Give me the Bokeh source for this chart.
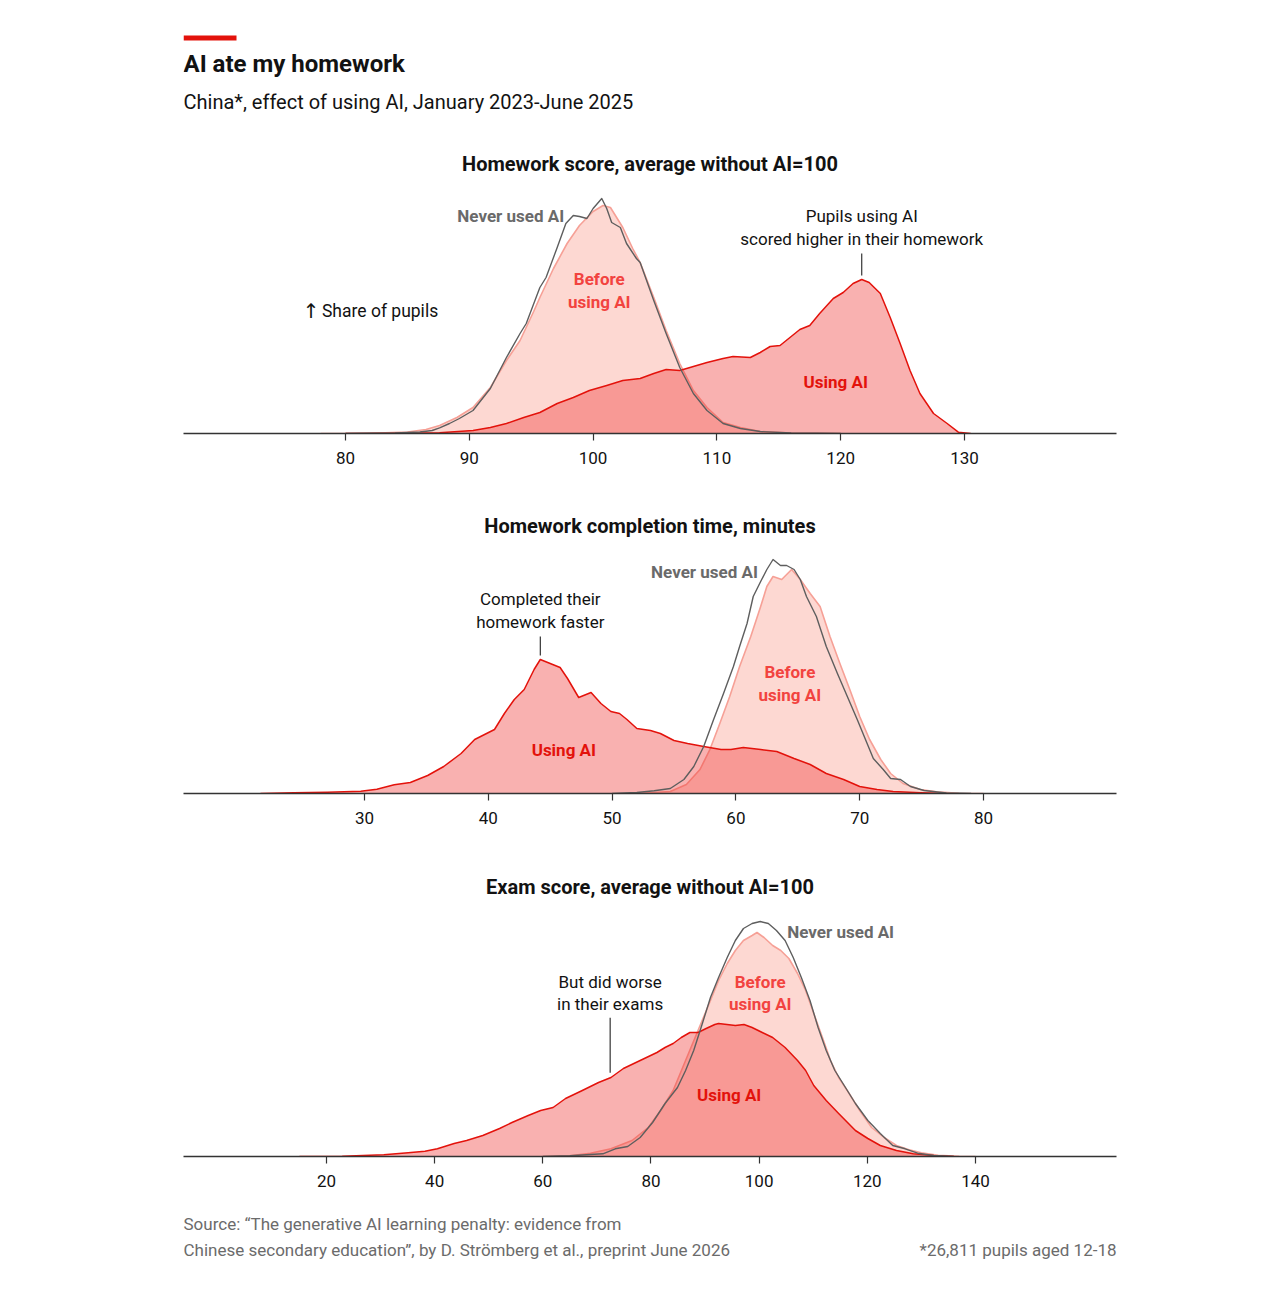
import numpy as np
from bokeh.plotting import figure
from bokeh.models import Range1d, FixedTicker, Label, BoxAnnotation
from bokeh.layouts import column
from bokeh.embed import file_html
from bokeh.resources import INLINE

FONT = "Roboto"

# ---------------- data (share of pupils, arbitrary units) -------------
# Panel 1: homework score, average without AI = 100
hw_never_x = [80, 84, 86, 87, 87.6, 88.4, 89.2, 90.3, 91.7, 93.0, 94.1, 94.6, 95.7, 96.2, 97.1, 97.8, 98.4, 98.9,
              99.5, 100.0, 100.7, 101.1, 101.5, 102.2, 102.7, 103.5, 103.8, 104.9, 105.9, 107.0, 108.1, 109.2,
              110.5, 111.9, 113.5, 116, 120]
hw_never_y = [0, 0.05, 0.15, 0.3, 0.57, 1.0, 1.5, 2.3, 4.5, 7.6, 10.0, 11.0, 14.6, 15.6, 18.6, 21.0, 21.8, 21.7,
              21.5, 22.5, 23.5, 22.5, 21.1, 20.6, 19.0, 17.5, 17.1, 13.3, 10.0, 6.6, 4.0, 2.3,
              1.0, 0.5, 0.2, 0.05, 0]
hw_before_x = [78, 82, 85, 86.5, 87.6, 89.0, 90.3, 91.7, 93.0, 94.1, 95.2, 95.7, 96.8, 97.9, 98.9, 100.0, 100.8,
               101.4, 101.9, 102.4, 103.2, 103.8, 104.9, 105.9, 107.0, 108.1, 109.2, 110.5, 111.9, 113.5, 116, 120]
hw_before_y = [0, 0.03, 0.15, 0.4, 0.8, 1.6, 2.6, 4.6, 7.3, 9.3, 12.2, 13.6, 16.5, 19.0, 20.8, 22.2, 22.8,
               22.6, 21.6, 20.6, 18.5, 17.1, 13.6, 10.3, 7.0, 4.3, 2.6, 1.1, 0.6, 0.2, 0.05, 0]
hw_using_x = [80, 85, 87.6, 90.3, 91.7, 93.0, 94.4, 95.7, 97.1, 98.4, 99.7, 101.1, 102.4, 103.8, 104.9, 105.9,
              107.0, 108.1, 109.2, 110.5, 111.3, 112.7, 113.5, 114.3, 115.1, 115.9, 116.7, 117.5, 118.3, 119.4,
              120.2, 121.0, 121.7, 122.3, 123.2, 124.0, 124.8, 125.6, 126.4, 127.5, 128.6, 129.5, 130.5]
hw_using_y = [0, 0.03, 0.07, 0.3, 0.6, 1.0, 1.6, 2.1, 3.0, 3.6, 4.3, 4.8, 5.3, 5.5, 6.0, 6.4,
              6.3, 6.7, 7.1, 7.5, 7.7, 7.6, 8.1, 8.7, 8.8, 9.6, 10.4, 10.8, 12.0, 13.5,
              14.1, 15.0, 15.4, 15.1, 14.0, 11.6, 9.0, 6.3, 4.0, 2.0, 1.0, 0.13, 0]
hw_ticks = [80, 90, 100, 110, 120, 130]

# Panel 2: homework completion time, minutes
tm_never_x = [50, 52, 53.4, 54.7, 55.8, 56.6, 57.4, 58.2, 59.0, 59.8, 60.3, 60.9, 61.4, 62.0, 62.5, 63.0, 63.6,
              64.1, 64.7, 65.2, 65.7, 66.5, 67.3, 68.2, 69.0, 69.8, 70.6, 71.1, 71.9, 72.5, 73.3, 74.1, 75.2,
              77.0, 79]
tm_never_y = [0, 0.1, 0.27, 0.5, 1.4, 2.7, 4.7, 7.4, 10.0, 12.7, 14.7, 17.0, 19.7, 21.2, 22.4, 23.4, 22.8,
              22.8, 22.4, 21.4, 19.7, 17.7, 14.7, 12.0, 9.7, 7.4, 5.0, 3.5, 2.4, 1.5, 1.4, 0.7, 0.3,
              0.05, 0]
tm_before_x = [52, 54.7, 56.0, 57.1, 57.9, 58.7, 59.5, 60.3, 61.2, 62.0, 62.5, 63.0, 63.7, 64.1, 64.5, 65.2,
               66.0, 66.8, 67.6, 68.4, 69.2, 70.0, 70.8, 71.7, 72.5, 73.5, 74.9, 76.2, 78, 80]
tm_before_y = [0, 0.2, 0.9, 2.4, 4.4, 7.0, 9.7, 12.7, 15.7, 18.7, 20.7, 21.7, 21.4, 21.9, 22.4, 21.4,
               20.0, 18.7, 15.7, 13.0, 10.4, 7.7, 5.4, 3.4, 2.0, 1.0, 0.4, 0.17, 0.03, 0]
tm_using_x = [21.6, 24.3, 27.0, 29.7, 31.0, 32.4, 33.7, 35.1, 36.4, 37.8, 38.9, 39.7, 40.5, 41.3, 42.1, 42.9,
              43.7, 44.2, 45.0, 45.8, 46.4, 47.3, 48.3, 49.1, 49.9, 50.6, 51.2, 52.0, 53.1, 53.9, 55.0, 56.1,
              57.4, 58.8, 59.6, 60.6, 62.0, 63.3, 64.7, 66.0, 67.3, 68.7, 70.0, 71.4, 72.7, 74.9, 77.0]
tm_using_y = [0, 0.07, 0.13, 0.23, 0.43, 0.87, 1.1, 1.8, 2.7, 4.0, 5.4, 5.9, 6.4, 8.0, 9.4, 10.4,
              12.4, 13.4, 13.0, 12.6, 11.5, 9.6, 10.1, 9.0, 8.2, 8.0, 7.4, 6.5, 6.3, 6.0, 5.3, 5.0,
              4.7, 4.4, 4.4, 4.6, 4.4, 4.2, 3.5, 2.9, 2.0, 1.4, 0.7, 0.4, 0.2, 0.07, 0]
tm_ticks = [30, 40, 50, 60, 70, 80]

# Panel 3: exam score, average without AI = 100
ex_never_x = [60, 65.0, 68.8, 71.1, 73.4, 75.7, 78.0, 80.3, 82.6, 84.9, 86.4, 87.9, 89.5, 91.0, 92.5, 94.1, 95.6,
              97.1, 98.7, 100.2, 101.7, 103.2, 104.8, 106.3, 107.8, 109.4, 110.9, 112.4, 114.0, 115.5, 117.8,
              120.1, 122.4, 124.7, 127.0, 129.3, 132.3, 136]
ex_never_y = [0, 0.07, 0.2, 0.27, 0.77, 1.0, 1.9, 3.4, 5.3, 6.9, 8.6, 10.6, 13.3, 15.9, 17.9, 19.9, 21.6,
              22.8, 23.3, 23.5, 23.3, 22.6, 21.6, 19.9, 17.9, 15.6, 12.9, 10.6, 8.6, 7.3, 5.3,
              3.6, 2.3, 1.1, 0.77, 0.33, 0.1, 0]
ex_before_x = [60, 65.0, 68.8, 72.6, 76.5, 79.5, 81.8, 84.1, 86.4, 88.7, 91.0, 92.5, 94.1, 95.6, 97.1, 98.7,
               99.6, 100.9, 102.5, 104.0, 105.5, 107.1, 108.6, 110.1, 111.7, 113.2, 114.7, 116.3, 118.6, 120.8,
               123.1, 125.4, 127.7, 130.0, 133.1, 137, 140]
ex_before_y = [0, 0.07, 0.33, 0.77, 1.6, 2.9, 4.6, 6.6, 9.6, 12.6, 15.6, 17.6, 19.3, 20.6, 21.6, 22.1,
               22.4, 21.9, 21.1, 20.6, 19.8, 18.3, 16.6, 14.3, 11.9, 9.6, 7.9, 6.6, 4.6, 2.9,
               1.9, 1.1, 0.67, 0.37, 0.13, 0.03, 0]
ex_using_x = [15, 22.9, 30.6, 35.1, 38.2, 40.5, 43.6, 45.9, 48.9, 52.0, 54.3, 57.3, 59.6, 61.9, 64.2, 67.3,
              70.3, 72.6, 74.9, 78.0, 81.1, 82.6, 84.1, 85.6, 87.2, 88.7, 90.2, 91.8, 92.5, 95.6, 97.2, 98.7,
              100.2, 102.5, 104.8, 107.1, 108.6, 110.1, 112.4, 114.7, 117.8, 120.1, 122.4, 125.4, 128.5, 132.3, 136]
ex_using_y = [0, 0.03, 0.17, 0.37, 0.53, 0.77, 1.3, 1.6, 2.1, 2.8, 3.4, 4.1, 4.6, 4.9, 5.8, 6.6,
              7.4, 7.9, 8.8, 9.6, 10.4, 10.9, 11.3, 11.9, 12.4, 12.4, 12.8, 13.2, 13.3, 13.1, 13.2, 12.9,
              12.5, 11.9, 10.9, 9.6, 8.6, 7.1, 5.6, 4.3, 2.6, 1.8, 1.1, 0.6, 0.27, 0.1, 0]
ex_ticks = [20, 40, 60, 80, 100, 120, 140]

# ---------------- styling -------------
W = 1258
ML, MR = 183, 142
BEFORE_FILL = "#fdd8d2"
BEFORE_LINE = "#f6a096"
USING_FILL = "#f03c3a"
USING_ALPHA = 0.4
USING_LINE = "#e3120b"
NEVER_LINE = "#5e5e5e"
RED_TXT = "#e3120b"
LIGHTRED_TXT = "#f2433f"
GREY_TXT = "#6a6a6a"
DARK = "#121212"


def base_fig(height, xr, yr, top, bottom):
    p = figure(width=W, height=height, x_range=Range1d(*xr), y_range=Range1d(*yr),
               output_backend="svg", toolbar_location=None, y_axis_location=None,
               min_border_left=ML, min_border_right=MR, min_border_top=top, min_border_bottom=bottom,
               outline_line_color=None, background_fill_color="white", border_fill_color="white")
    p.grid.visible = False
    return p


def style_axis(p, ticks):
    ax = p.xaxis[0]
    ax.ticker = FixedTicker(ticks=ticks)
    ax.axis_line_color = "#333333"
    ax.axis_line_width = 1.3
    ax.major_tick_line_color = "#333333"
    ax.major_tick_line_width = 1.2
    ax.major_tick_out = 7
    ax.major_tick_in = 0
    ax.minor_tick_line_color = None
    ax.major_label_text_font = FONT
    ax.major_label_text_font_size = "17px"
    ax.major_label_text_color = DARK
    ax.major_label_standoff = 11


def draw_series(p, bx, by, ux, uy, nx, ny):
    p.varea(x=bx, y1=0, y2=by, fill_color=BEFORE_FILL, fill_alpha=1.0)
    p.line(bx, by, line_color=BEFORE_LINE, line_width=1.6, line_join="round")
    p.varea(x=ux, y1=0, y2=uy, fill_color=USING_FILL, fill_alpha=USING_ALPHA)
    p.line(ux, uy, line_color=USING_LINE, line_width=1.5, line_join="round")
    p.line(nx, ny, line_color=NEVER_LINE, line_width=1.4, line_join="round")


def txt(p, x, y, text, size="17px", color=DARK, bold=False, align="center", font=FONT):
    p.add_layout(Label(x=x, y=y, text=text, text_font=font, text_font_size=size,
                       text_color=color, text_font_style="bold" if bold else "normal",
                       text_align=align, text_baseline="middle"))


def leader(p, x, y0, y1):
    p.segment(x0=[x], y0=[y0], x1=[x], y1=[y1], line_color="#222222", line_width=1.1)


# ---------------- panel 1 (with header) -------------
PX1 = 12.38
x1s = 80 - 162 / PX1
p1 = base_fig(483, (x1s, x1s + 933 / PX1), (0, 42.5), 8, 50)
style_axis(p1, hw_ticks)
draw_series(p1, hw_before_x, hw_before_y, hw_using_x, hw_using_y, hw_never_x, hw_never_y)

p1.add_layout(BoxAnnotation(left=x1s, right=x1s + 53 / PX1, bottom=39.3, top=39.8,
                            fill_color="#e3120b", fill_alpha=1.0, line_color=None))
txt(p1, x1s, 37.0, "AI ate my homework", size="24px", bold=True, align="left")
txt(p1, x1s, 33.2, "China*, effect of using AI, January 2023-June 2025", size="20px", align="left")
txt(p1, (x1s + x1s + 933 / PX1) / 2, 27.0, "Homework score, average without AI=100", size="20px", bold=True)
txt(p1, 76.55, 12.3, "\u2191", size="20px", align="left", font="DejaVu Sans")
txt(p1, 78.1, 12.3, "Share of pupils", size="17.5px", align="left")
txt(p1, 97.66, 21.8, "Never used AI", color=GREY_TXT, bold=True, align="right")
txt(p1, 100.5, 15.5, "Before", color=LIGHTRED_TXT, bold=True)
txt(p1, 100.5, 13.2, "using AI", color=LIGHTRED_TXT, bold=True)
txt(p1, 119.6, 5.2, "Using AI", color=RED_TXT, bold=True)
i1 = int(np.argmax(hw_using_y))
txt(p1, hw_using_x[i1], 21.8, "Pupils using AI")
txt(p1, hw_using_x[i1], 19.5, "scored higher in their homework")
leader(p1, hw_using_x[i1], hw_using_y[i1] + 0.4, hw_using_y[i1] + 2.6)

# ---------------- panel 2 -------------
PX2 = 12.38
x2s = 30 - 181 / PX2
p2 = base_fig(360, (x2s, x2s + 933 / PX2), (0, 31.0), 0, 50)
style_axis(p2, tm_ticks)
draw_series(p2, tm_before_x, tm_before_y, tm_using_x, tm_using_y, tm_never_x, tm_never_y)
txt(p2, (x2s + x2s + 933 / PX2) / 2, 26.8, "Homework completion time, minutes", size="20px", bold=True)
txt(p2, 61.78, 22.2, "Never used AI", color=GREY_TXT, bold=True, align="right")
txt(p2, 64.36, 12.2, "Before", color=LIGHTRED_TXT, bold=True)
txt(p2, 64.36, 9.9, "using AI", color=LIGHTRED_TXT, bold=True)
txt(p2, 46.1, 4.4, "Using AI", color=RED_TXT, bold=True)
i2 = int(np.argmax(tm_using_y))
txt(p2, tm_using_x[i2], 19.5, "Completed their")
txt(p2, tm_using_x[i2], 17.2, "homework faster")
leader(p2, tm_using_x[i2], tm_using_y[i2] + 0.4, tm_using_y[i2] + 2.3)

# ---------------- panel 3 -------------
PX3 = 5.408
x3s = 20 - 143 / PX3
p3 = base_fig(357, (x3s, x3s + 933 / PX3), (0, 31.3), 0, 44)
style_axis(p3, ex_ticks)
draw_series(p3, ex_before_x, ex_before_y, ex_using_x, ex_using_y, ex_never_x, ex_never_y)
txt(p3, (x3s + x3s + 933 / PX3) / 2, 27.0, "Exam score, average without AI=100", size="20px", bold=True)
txt(p3, 105.2, 22.5, "Never used AI", color=GREY_TXT, bold=True, align="left")
txt(p3, 100.2, 17.5, "Before", color=LIGHTRED_TXT, bold=True)
txt(p3, 100.2, 15.3, "using AI", color=LIGHTRED_TXT, bold=True)
txt(p3, 94.45, 6.2, "Using AI", color=RED_TXT, bold=True)
lx3 = 72.45
ly3 = float(np.interp(lx3, ex_using_x, ex_using_y))
txt(p3, lx3, 17.5, "But did worse")
txt(p3, lx3, 15.3, "in their exams")
leader(p3, lx3, ly3 + 0.5, ly3 + 6.0)

# ---------------- footer -------------
p4 = figure(width=W, height=72, x_range=Range1d(0, 933), y_range=Range1d(0, 72),
            output_backend="svg", toolbar_location=None, x_axis_location=None, y_axis_location=None,
            min_border_left=ML, min_border_right=MR, min_border_top=0, min_border_bottom=0,
            outline_line_color=None, background_fill_color="white", border_fill_color="white")
p4.grid.visible = False
FOOT = "#6b6b6b"
txt(p4, 0, 49, "Source: \u201cThe generative AI learning penalty: evidence from", size="17px", color=FOOT, align="left")
txt(p4, 0, 23, "Chinese secondary education\u201d, by D. Str\u00f6mberg et al., preprint June 2026", size="17px",
    color=FOOT, align="left")
txt(p4, 933, 23, "*26,811 pupils aged 12-18", size="17px", color=FOOT, align="right")

layout = column(p1, p2, p3, p4, spacing=0)
open("out.html", "w").write(file_html(layout, INLINE))
